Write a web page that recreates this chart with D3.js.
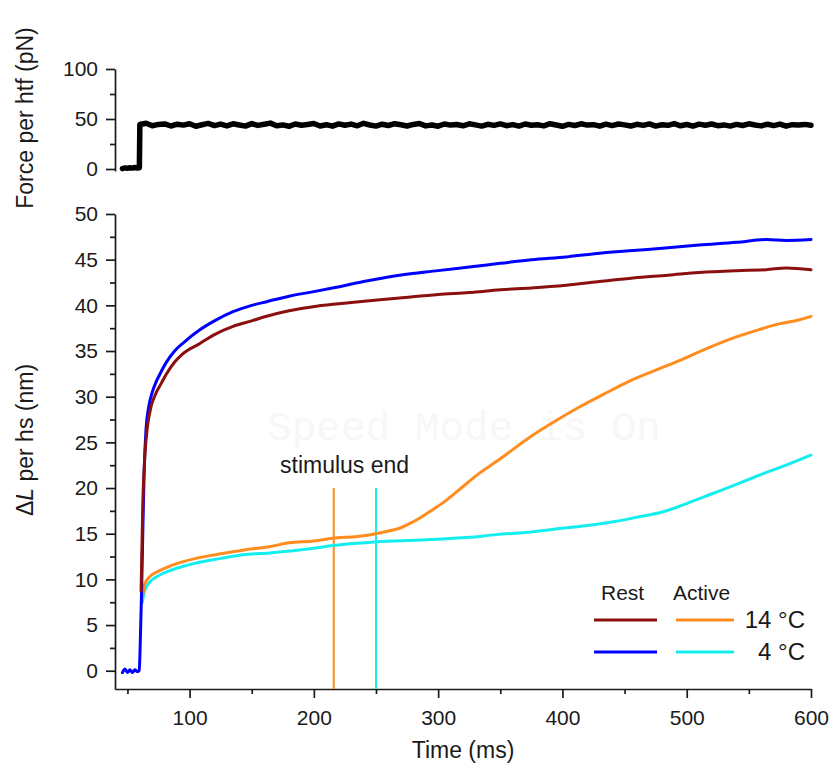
<!DOCTYPE html>
<html>
<head>
<meta charset="utf-8">
<script src="https://cdn.jsdelivr.net/npm/d3@7"></script>
<style>
    body { margin: 0; background: #fff; }
    svg { display: block; font-family: 'Liberation Sans', Arial, sans-serif; }
    .axis path, .axis line { stroke: #1a1a1a; stroke-width: 1.7; }
    .axis text { font-size: 21px; fill: #1a1a1a; }
    .trace { fill: none; stroke-linejoin: round; stroke-linecap: round; }
</style>
</head>
<body>
<div id="chart"></div>
<script>
// --- data ---
const forceBaseline = [[46, 0.4], [48, 1.1], [50, 0.7], [52, 1.3], [54, 0.9], [56, 1.5], [58, 1.0], [59.6, 1.2]]
const forceDt = 5   // ms between samples, first sample at 60 ms
const forceValues = [
    44.5, 45.8, 43.2, 44.6, 45.1, 43.0, 44.8, 43.9, 45.3, 42.8,
    44.2, 45.6, 43.4, 44.9, 43.1, 45.2, 44.0, 42.9, 45.4, 43.6,
    44.7, 45.9, 43.3, 44.1, 42.7, 45.0, 43.8, 44.6, 45.5, 43.0,
    44.3, 42.8, 45.1, 43.7, 44.9, 43.2, 45.7, 44.0, 42.9, 44.8,
    43.5, 45.3, 44.2, 43.0, 44.6, 45.4, 43.1, 44.0, 42.8, 45.0,
    43.9, 44.5, 43.2, 45.2, 44.1, 42.9, 44.7, 43.6, 45.1, 43.3,
    44.4, 42.9, 45.0, 43.8, 44.2, 43.1, 45.3, 44.0, 42.7, 44.6,
    43.5, 45.2, 43.9, 44.3, 42.8, 44.9, 43.4, 45.0, 44.1, 43.0,
    44.7, 43.6, 45.1, 42.9, 44.2, 43.7, 45.4, 43.2, 44.5, 42.8,
    44.9, 43.8, 45.0, 43.3, 44.1, 42.9, 44.6, 43.5, 45.2, 44.0,
    43.1, 44.8, 43.4, 44.9, 42.8, 44.3, 43.9, 44.6, 43.7
]

// [time (ms), dL (nm)]
const rest4 = [
    [46, -0.2], [48, 0.2], [50, -0.2], [52, 0.1], [54, -0.2], [56, 0.1], [58, -0.1], [59.5, 0],
    [60.5, 4], [61.4, 8.7], [62.5, 16], [63.5, 22], [65, 26.5], [67, 28.8], [70, 30.5], [73, 31.6],
    [77, 32.7], [81, 33.7], [88, 35], [95, 35.9], [108, 37.3], [120, 38.3], [135, 39.3], [150, 40],
    [162, 40.4], [180, 41], [200, 41.5], [215, 41.9], [240, 42.6], [269, 43.3], [300, 43.8],
    [325, 44.2], [350, 44.6], [375, 45], [403, 45.3], [430, 45.7], [457, 46], [485, 46.3],
    [510, 46.6], [540, 46.9], [564, 47.2], [580, 47.1], [600, 47.2]
]
const rest14 = [
    [61, 8.7], [62.4, 18.5], [64, 23.5], [66, 26.6], [69, 28.9], [73, 30.4], [77, 31.4], [81, 32.4],
    [88, 33.8], [94.5, 34.7], [108, 35.8], [120, 36.8], [135, 37.7], [150, 38.3], [162, 38.8],
    [180, 39.4], [202, 39.9], [230, 40.3], [269, 40.8], [300, 41.2], [325, 41.4], [350, 41.7],
    [375, 41.9], [403, 42.2], [430, 42.6], [457, 43], [485, 43.3], [510, 43.6], [540, 43.8],
    [564, 43.9], [580, 44.1], [600, 43.9]
]
const active14 = [
    [62, 8], [64, 9.5], [68, 10.3], [75, 10.9], [85, 11.5], [105, 12.3], [125, 12.8], [143, 13.2],
    [165, 13.6], [180, 14], [200, 14.2], [215, 14.5], [235, 14.7], [250, 15], [260, 15.3],
    [269, 15.6], [277, 16.1], [285, 16.7], [293, 17.4], [304, 18.4], [315, 19.6], [333, 21.6],
    [350, 23.2], [374, 25.6], [395, 27.4], [414, 28.9], [435, 30.4], [454, 31.7], [475, 32.9],
    [495, 34], [515, 35.2], [535, 36.3], [555, 37.2], [575, 38], [590, 38.4], [600, 38.8]
]
const active4 = [
    [62, 7.5], [64, 8.8], [68, 9.7], [75, 10.4], [85, 11], [105, 11.8], [125, 12.3], [143, 12.7],
    [165, 12.9], [180, 13.1], [200, 13.4], [215, 13.7], [250, 14.1], [285, 14.3], [325, 14.6],
    [347, 14.9], [375, 15.2], [400, 15.6], [420, 15.9], [441, 16.3], [460, 16.8], [481, 17.4],
    [500, 18.3], [521, 19.4], [540, 20.4], [562, 21.6], [580, 22.5], [600, 23.6]
]

const stimulusEnd = [216, 250]      // ms, 14 °C and 4 °C
const stimulusTop = 20              // nm, top of the marker lines

const legendColumns = ['Rest', 'Active']
const legendRows = ['14 °C', '4 °C']

const xTicks = [100, 200, 300, 400, 500, 600]
const xMinorTicks = [50, 150, 250, 350, 450, 550]
const forceTicks = [0, 50, 100]
const forceMinorTicks = [25, 75]
const dlTicks = [0, 5, 10, 15, 20, 25, 30, 35, 40, 45, 50]
const dlMinorTicks = [2.5, 7.5, 12.5, 17.5, 22.5, 27.5, 32.5, 37.5, 42.5, 47.5]

const colors = {
    rest14: '#8b0f0f',
    rest4: '#0000ff',
    active14: '#ff8c1e',
    active4: '#14eeee'
}

const width = 833
const height = 773

const svg = d3.select('#chart').append('svg')
    .attr('width', width)
    .attr('height', height)

// scales
const x = d3.scaleLinear().domain([40, 600]).range([115, 811])
const yForce = d3.scaleLinear().domain([-2, 100]).range([171, 69])
const yDL = d3.scaleLinear().domain([-2, 50]).range([689, 214])

// faint overlay that sits on the source figure
svg.append('text')
    .attr('x', 464)
    .attr('y', 440)
    .attr('text-anchor', 'middle')
    .style('font-family', "'Liberation Mono', monospace")
    .style('font-size', '41px')
    .style('fill', '#f7f7f7')
    .text('Speed Mode is On')

// axes
function leftAxis(scale, major, minor, x0) {
    svg.append('g')
        .attr('class', 'axis')
        .attr('transform', `translate(${x0},0)`)
        .call(d3.axisLeft(scale).tickValues(minor).tickSize(5).tickSizeOuter(0).tickFormat(''))
        .call(g => g.select('.domain').remove())
    svg.append('g')
        .attr('class', 'axis')
        .attr('transform', `translate(${x0},0)`)
        .call(d3.axisLeft(scale).tickValues(major).tickSize(9).tickSizeOuter(0).tickPadding(8))
}
leftAxis(yForce, forceTicks, forceMinorTicks, 115)
leftAxis(yDL, dlTicks, dlMinorTicks, 115)

svg.append('g')
    .attr('class', 'axis')
    .attr('transform', 'translate(0,689)')
    .call(d3.axisBottom(x).tickValues(xMinorTicks).tickSize(5).tickSizeOuter(0).tickFormat(''))
    .call(g => g.select('.domain').remove())
svg.append('g')
    .attr('class', 'axis')
    .attr('transform', 'translate(0,689)')
    .call(d3.axisBottom(x).tickValues(xTicks).tickSize(9).tickSizeOuter(0).tickPadding(12))

// axis titles
svg.append('text')
    .attr('transform', 'translate(33,118) rotate(-90)')
    .attr('text-anchor', 'middle')
    .style('font-size', '23px')
    .style('fill', '#1a1a1a')
    .text('Force per htf (pN)')

const dlTitle = svg.append('text')
    .attr('transform', 'translate(33,440) rotate(-90)')
    .attr('text-anchor', 'middle')
    .style('font-size', '23px')
    .style('fill', '#1a1a1a')
dlTitle.append('tspan').text('\u0394')
dlTitle.append('tspan').style('font-style', 'italic').text('L')
dlTitle.append('tspan').text(' per hs (nm)')

svg.append('text')
    .attr('x', (x.range()[0] + x.range()[1]) / 2)
    .attr('y', 758)
    .attr('text-anchor', 'middle')
    .style('font-size', '23px')
    .style('fill', '#1a1a1a')
    .text('Time (ms)')

// force trace
const forceTrace = forceBaseline.concat(forceValues.map((v, i) => [60 + i * forceDt, v]))
svg.append('path')
    .datum(forceTrace)
    .attr('class', 'trace')
    .attr('stroke', '#000')
    .attr('stroke-width', 5.5)
    .attr('d', d3.line().x(d => x(d[0])).y(d => yForce(d[1])))

// stimulus end markers
svg.selectAll('.stim')
    .data(stimulusEnd)
    .join('line')
    .attr('class', 'stim')
    .attr('x1', d => x(d))
    .attr('x2', d => x(d))
    .attr('y1', yDL(stimulusTop))
    .attr('y2', yDL(-2))
    .attr('stroke', (d, i) => i === 0 ? colors.active14 : colors.active4)
    .attr('stroke-width', 2)

svg.append('text')
    .attr('x', 280)
    .attr('y', 473)
    .style('font-size', '23px')
    .style('fill', '#1a1a1a')
    .text('stimulus end')

// dL traces
const dlLine = d3.line()
    .x(d => x(d[0]))
    .y(d => yDL(d[1]))
    .curve(d3.curveMonotoneX)

const series = [
    { data: active4, color: colors.active4 },
    { data: active14, color: colors.active14 },
    { data: rest4, color: colors.rest4 },
    { data: rest14, color: colors.rest14 }
]
svg.selectAll('.dl')
    .data(series)
    .join('path')
    .attr('class', 'trace dl')
    .attr('stroke', d => d.color)
    .attr('stroke-width', 3)
    .attr('d', d => dlLine(d.data))

// legend
const legend = svg.append('g')
legend.selectAll('.col')
    .data(legendColumns)
    .join('text')
    .attr('class', 'col')
    .attr('x', (d, i) => i === 0 ? 601 : 673)
    .attr('y', 600)
    .style('font-size', '21px')
    .style('fill', '#1a1a1a')
    .text(d => d)

const legendSwatches = [
    [colors.rest14, colors.active14],
    [colors.rest4, colors.active4]
]
legendRows.forEach((label, r) => {
    const yy = 620 + r * 32
    legendSwatches[r].forEach((c, k) => {
        legend.append('line')
            .attr('x1', k === 0 ? 594 : 676)
            .attr('x2', k === 0 ? 657 : 734)
            .attr('y1', yy)
            .attr('y2', yy)
            .attr('stroke', c)
            .attr('stroke-width', 3)
    })
    legend.append('text')
        .attr('x', 805)
        .attr('y', yy + 8)
        .attr('text-anchor', 'end')
        .style('font-size', '24px')
        .style('fill', '#1a1a1a')
        .text(label)
})
</script>
</body>
</html>
